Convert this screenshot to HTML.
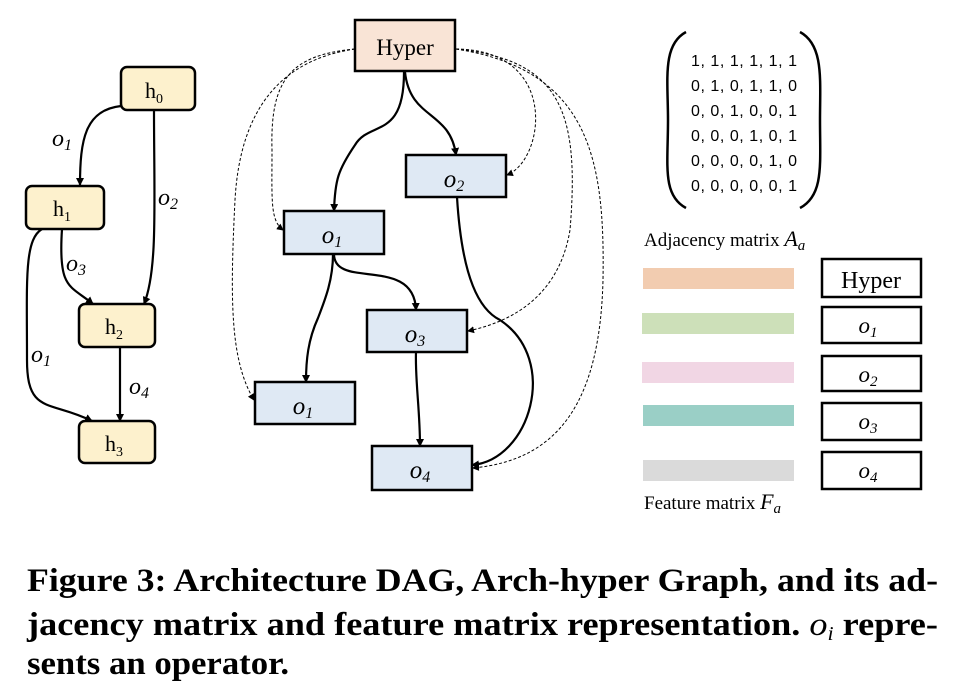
<!DOCTYPE html>
<html><head><meta charset="utf-8"><style>
html,body{margin:0;padding:0;background:#fff;}
svg{display:block}
.it{font-family:"Liberation Serif",serif;font-style:italic}
.sr{font-family:"Liberation Serif",serif}
.sn{font-family:"Liberation Sans",sans-serif}
</style></head><body>
<svg width="966" height="698" viewBox="0 0 966 698" xmlns="http://www.w3.org/2000/svg">
<defs>
<marker id="a" markerWidth="8" markerHeight="8" refX="7" refY="4" orient="auto" markerUnits="userSpaceOnUse"><path d="M0,0 L8,4 L0,8 z" fill="#000"/></marker>
<marker id="d" markerWidth="7" markerHeight="7" refX="6" refY="3.5" orient="auto" markerUnits="userSpaceOnUse"><path d="M0,0 L7,3.5 L0,7 z" fill="#000"/></marker>
</defs>
<g fill="none" stroke="#000" stroke-width="2.2">
<path d="M121,106 C85,110 80,140 80,185" marker-end="url(#a)"/>
<path d="M154,110 C154,200 158,270 144,304" marker-end="url(#a)"/>
<path d="M62,229 C58,290 70,285 93,304" marker-end="url(#a)"/>
<path d="M42,229 C24,240 27,280 27,360 C27,415 50,400 92,421" marker-end="url(#a)"/>
<path d="M120,347 L120,421" marker-end="url(#a)"/>
<path d="M404,72 C404,140 370,120 355,145 C338,170 335,180 334,211" marker-end="url(#a)"/>
<path d="M405,72 C410,120 450,110 456,155" marker-end="url(#a)"/>
<path d="M334,254 C334,290 414,255 416,310" marker-end="url(#a)"/>
<path d="M333,254 C333,280 325,300 318,318 C308,340 306,360 306,382" marker-end="url(#a)"/>
<path d="M416,352 C415,380 420,410 420,446" marker-end="url(#a)"/>
<path d="M457,197 C462,280 480,310 500,320 C560,360 530,460 472,465" marker-end="url(#a)"/>
</g>
<g fill="none" stroke="#000" stroke-width="1" stroke-dasharray="3,2">
<path d="M355,49 C290,55 270,80 272,150 C272,200 270,220 283,230" marker-end="url(#d)"/>
<path d="M355,49 C280,60 240,110 235,200 C230,300 230,360 254,400" marker-end="url(#d)"/>
<path d="M456,49 C560,50 545,160 507,175" marker-end="url(#d)"/>
<path d="M456,49 C560,60 580,110 570,230 C560,290 520,320 468,331" marker-end="url(#d)"/>
<path d="M456,49 C590,70 605,160 603,280 C600,400 560,460 473,468" marker-end="url(#d)"/>
</g>
<g fill="#fdf1cd" stroke="#000" stroke-width="2.5">
<rect x="121" y="67" width="74" height="43" rx="6"/>
<rect x="26" y="186" width="78" height="43" rx="6"/>
<rect x="79" y="304" width="76" height="43" rx="6"/>
<rect x="79" y="421" width="76" height="42" rx="6"/>
</g>
<g class="sr" font-size="22" text-anchor="middle">
<text x="154" y="98">h<tspan font-size="14" dy="5">0</tspan></text>
<text x="62" y="216">h<tspan font-size="14" dy="5">1</tspan></text>
<text x="114" y="334">h<tspan font-size="14" dy="5">2</tspan></text>
<text x="114" y="451">h<tspan font-size="14" dy="5">3</tspan></text>
</g>
<g class="it" font-size="24">
<text x="52" y="146">o<tspan font-size="16" dy="4">1</tspan></text>
<text x="158" y="205">o<tspan font-size="16" dy="4">2</tspan></text>
<text x="66" y="271">o<tspan font-size="16" dy="4">3</tspan></text>
<text x="31" y="362">o<tspan font-size="16" dy="4">1</tspan></text>
<text x="129" y="394">o<tspan font-size="16" dy="4">4</tspan></text>
</g>
<rect x="355" y="20" width="100" height="51" fill="#f9e4d6" stroke="#000" stroke-width="2.5"/>
<text class="sr" x="405" y="55" font-size="23" text-anchor="middle">Hyper</text>
<g fill="#dfe9f4" stroke="#000" stroke-width="2.5">
<rect x="406" y="155" width="100" height="42"/>
<rect x="284" y="211" width="100" height="43"/>
<rect x="367" y="310" width="100" height="42"/>
<rect x="255" y="382" width="100" height="42"/>
<rect x="372" y="446" width="100" height="44"/>
</g>
<g class="it" font-size="25" text-anchor="middle">
<text x="454" y="187">o<tspan font-size="16" dy="4">2</tspan></text>
<text x="332" y="243">o<tspan font-size="16" dy="4">1</tspan></text>
<text x="415" y="342">o<tspan font-size="16" dy="4">3</tspan></text>
<text x="303" y="414">o<tspan font-size="16" dy="4">1</tspan></text>
<text x="420" y="478">o<tspan font-size="16" dy="4">4</tspan></text>
</g>
<g fill="none" stroke="#000" stroke-width="2.5">
<path d="M686,32 C662,45 668,80 668,120 C668,165 662,195 686,208"/>
<path d="M800,32 C824,45 820,80 820,120 C820,165 824,195 800,208"/>
</g>
<g class="sn" font-size="16">
<text x="691" y="66" textLength="106">1, 1, 1, 1, 1, 1</text>
<text x="691" y="91" textLength="106">0, 1, 0, 1, 1, 0</text>
<text x="691" y="116" textLength="106">0, 0, 1, 0, 0, 1</text>
<text x="691" y="141" textLength="106">0, 0, 0, 1, 0, 1</text>
<text x="691" y="166" textLength="106">0, 0, 0, 0, 1, 0</text>
<text x="691" y="191" textLength="106">0, 0, 0, 0, 0, 1</text>
</g>
<text class="sr" x="644" y="246" font-size="19">Adjacency matrix <tspan class="it" font-size="22">A</tspan><tspan class="it" font-size="15" dy="4">a</tspan></text>
<rect x="643" y="268" width="151" height="21" fill="#f2ccb0"/>
<rect x="642" y="313" width="152" height="21" fill="#cde0b9"/>
<rect x="642" y="362" width="152" height="21" fill="#f1d6e4"/>
<rect x="643" y="405" width="151" height="21" fill="#9acfc6"/>
<rect x="643" y="460" width="151" height="21" fill="#dadada"/>
<g fill="#fff" stroke="#000" stroke-width="2.5">
<rect x="822" y="259" width="99" height="38"/>
<rect x="822" y="307" width="99" height="36"/>
<rect x="822" y="356" width="99" height="35"/>
<rect x="822" y="403" width="99" height="37"/>
<rect x="822" y="452" width="99" height="37"/>
</g>
<text class="sr" x="871" y="288" font-size="24" text-anchor="middle">Hyper</text>
<g class="it" font-size="23" text-anchor="middle">
<text x="868" y="333">o<tspan font-size="15" dy="4">1</tspan></text>
<text x="868" y="382">o<tspan font-size="15" dy="4">2</tspan></text>
<text x="868" y="429">o<tspan font-size="15" dy="4">3</tspan></text>
<text x="868" y="478">o<tspan font-size="15" dy="4">4</tspan></text>
</g>
<text class="sr" x="644" y="509" font-size="19">Feature matrix <tspan class="it" font-size="22">F</tspan><tspan class="it" font-size="15" dy="4">a</tspan></text>
<g class="sr" font-weight="bold" font-size="33">
<text x="27" y="591" textLength="911" lengthAdjust="spacingAndGlyphs">Figure 3: Architecture DAG, Arch-hyper Graph, and its ad-</text>
<text x="27" y="635" textLength="911" lengthAdjust="spacingAndGlyphs">jacency matrix and feature matrix representation. <tspan font-weight="normal" font-style="italic">o</tspan><tspan font-weight="normal" font-style="italic" font-size="20" dy="5">i</tspan><tspan dy="-5"> repre-</tspan></text>
<text x="27" y="674" textLength="262" lengthAdjust="spacingAndGlyphs">sents an operator.</text>
</g>
</svg>
</body></html>
